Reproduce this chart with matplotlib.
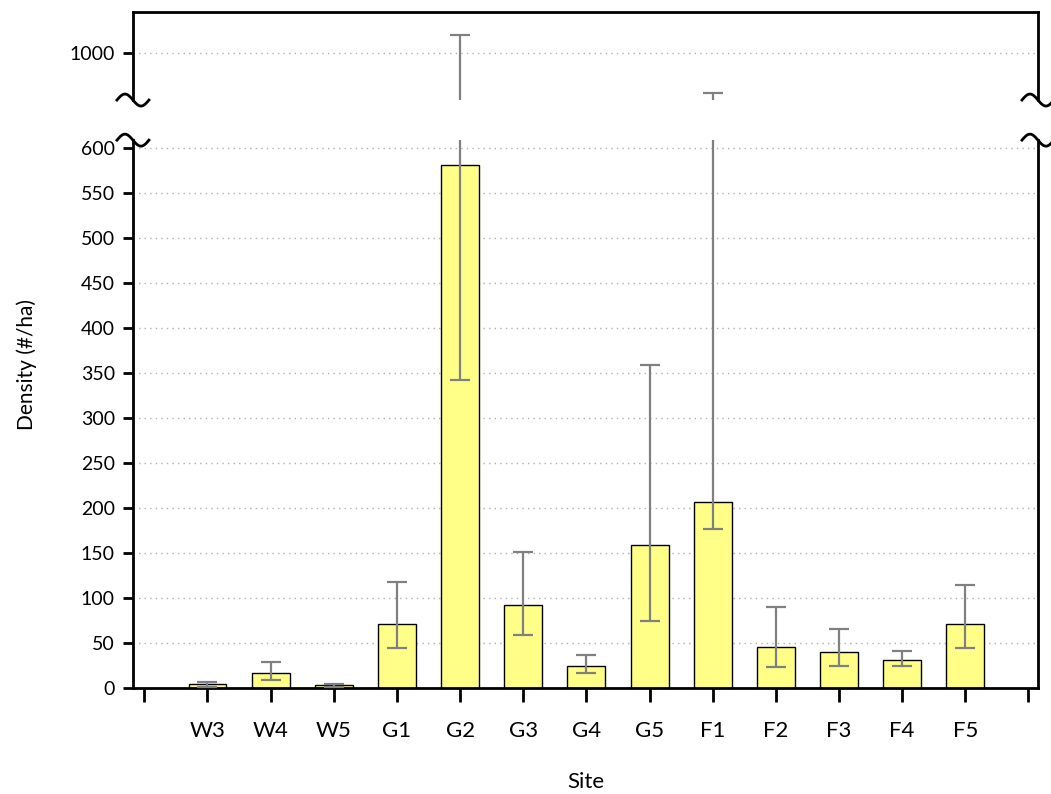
import numpy as np
import matplotlib
matplotlib.use("Agg")
from matplotlib import pyplot as plt
from matplotlib.lines import Line2D

sites = ["W3", "W4", "W5", "G1", "G2", "G3", "G4", "G5", "F1", "F2", "F3", "F4", "F5"]
density = [4.5, 17, 3, 71, 581, 92, 24, 159, 207, 46, 40, 31, 71]
err_low = [1.5, 9, 1, 45, 342, 59, 17, 75, 177, 23, 25, 25, 45]
err_high = [7, 29, 5, 118, 1020, 151, 37, 359, 956, 90, 66, 41, 114]

plt.rcParams['font.family'] = ['Lato', 'DejaVu Sans']

x = np.arange(1, len(sites) + 1)
yerr = [np.array(density) - np.array(err_low), np.array(err_high) - np.array(density)]

fig = plt.figure(figsize=(10.51, 7.94), dpi=100)
left, right = 0.1265, 0.9876
ax_top = fig.add_axes([left, 0.874, right - left, 0.111])
ax = fig.add_axes([left, 0.1335, right - left, 0.690])

for a in (ax, ax_top):
    a.bar(x, density, width=0.6, color="#ffff88", edgecolor="black", linewidth=1.0, zorder=2)
    a.errorbar(x, density, yerr=yerr, fmt="none", ecolor="#808080", elinewidth=1.6,
               capsize=7.5, capthick=1.6, zorder=3)
    a.set_xlim(-0.18, 14.15)
    a.yaxis.grid(True, linestyle=(0, (1, 3)), color="#b0b0b0", linewidth=1, zorder=0)
    a.set_axisbelow(True)
    for s in a.spines.values():
        s.set_linewidth(2)
    a.tick_params(axis="y", direction="out", length=7, width=2, labelsize=14, pad=6)

ax.set_ylim(0, 609)
ax.set_yticks(np.arange(0, 601, 50))
ax.spines["top"].set_visible(False)
ax.set_xticks(np.arange(0, 15))
ax.set_xticklabels([""] + sites + [""], fontsize=16)
ax.tick_params(axis="x", direction="out", length=10, width=2, pad=14)
ax.set_ylabel("Density (#/ha)", fontsize=15)
ax.yaxis.set_label_coords(-0.106, 0.59)
ax.set_xlabel("Site", fontsize=16, labelpad=22)

ax_top.set_ylim(948, 1045)
ax_top.set_yticks([1000])
ax_top.spines["bottom"].set_visible(False)
ax_top.set_xticks([])

# wavy break marks on both side spines
fw, fh = fig.get_size_inches() * fig.dpi
t = np.linspace(-1, 1, 40)
for a, edge in ((ax_top, "bottom"), (ax, "top")):
    pos = a.get_position()
    yb = pos.y0 if edge == "bottom" else pos.y1
    for xb in (pos.x0, pos.x1):
        xs = xb + t * 16 / fw
        ys = yb - np.sin(np.pi * t) * 6 / fh
        fig.add_artist(Line2D(xs, ys, color="black", linewidth=2, transform=fig.transFigure))

fig.savefig("out.png", dpi=100)
